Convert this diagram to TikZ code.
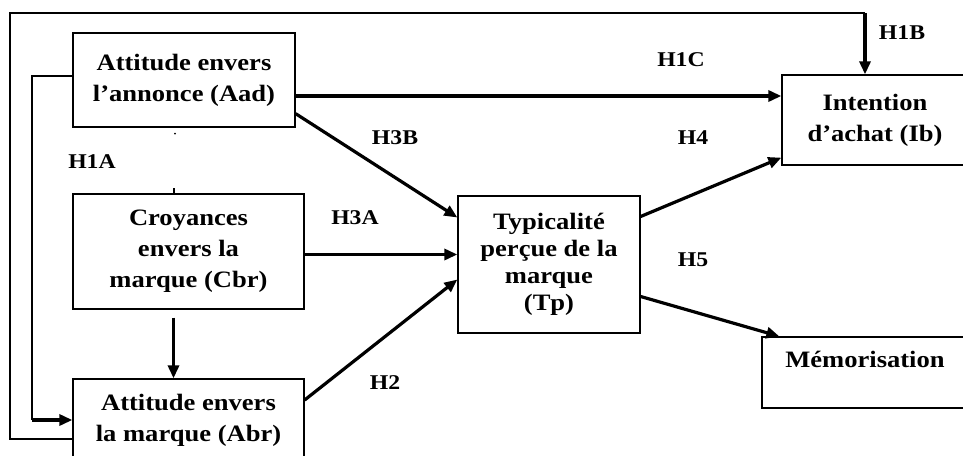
\documentclass[tikz,border=0pt]{standalone}
\usepackage{fontspec}
\setmainfont{Liberation Serif}[FakeStretch=1.13]
\usetikzlibrary{arrows.meta}

\begin{document}
\begin{tikzpicture}[x=1pt, y=-1pt,
    bloc/.style={draw, line width=1.3pt, rectangle, align=center,
        font=\fontsize{23.5}{31}\selectfont\bfseries, inner sep=2pt},
    lien/.style={line width=3.2pt, -{Triangle[length=13pt,width=11pt]}},
    boucle/.style={line width=1.5pt},
    hyp/.style={font=\fontsize{21}{24}\selectfont\bfseries}]
    \useasboundingbox (0,0) rectangle (963,455);
    % Blocs du modele
    \node[bloc, minimum width=222pt, minimum height=94pt] (Aad) at (184,80)
        {Attitude envers\\l'annonce (Aad)};
    \node[bloc, minimum width=231pt, minimum height=115pt] (Cbr) at (188.5,251.5)
        {Croyances\\envers la\\marque (Cbr)};
    \node[bloc, minimum width=231pt, minimum height=82pt] (Abr) at (188.5,420)
        {Attitude envers\\la marque (Abr)};
    \node[bloc, minimum width=182pt, minimum height=137pt,
        font=\fontsize{23.5}{27}\selectfont\bfseries] (Tp) at (549,264.5)
        {Typicalité\\perçue de la\\marque\\(Tp)};
    \node[bloc, minimum width=186pt, minimum height=90pt] (Ib) at (875,120)
        {Intention\\d'achat (Ib)};
    \node[bloc, minimum width=206pt, minimum height=71pt] (Mem) at (865,372.5)
        {Mémorisation\\[-4pt]~};
    % Coins des retours
    \coordinate (gauche) at (10,13);
    \coordinate (coin) at (865,13);
    \coordinate (retour) at (32,76);
    % Retour exterieur vers l'intention d'achat
    \draw[boucle] ([yshift=-19pt]Abr.west) -| (gauche) -- (coin);
    \draw[lien] (coin) -- (coin |- Ib.north);
    % Retour interieur vers l'attitude envers la marque
    \draw[boucle] ([yshift=4pt]Aad.west) -- (retour) -- (retour |- Abr.west);
    \draw[lien] (retour |- Abr.west) -- (Abr.west);
    % Liens entre les blocs
    \draw[lien] ([yshift=-16pt]Aad.east) -- ([yshift=-16pt]Aad.east -| Ib.west);
    \draw[lien] ([yshift=14pt]Aad.south east) -- ([yshift=47pt]Tp.west);
    \draw[lien] ([yshift=-3pt]Cbr.east) -- ([yshift=-3pt]Cbr.east -| Tp.west);
    \draw[lien, shorten <=8pt] ([xshift=-15pt]Cbr.south) -- ([xshift=-15pt]Abr.north);
    \draw[lien] ([yshift=20pt]Abr.east) -- ([yshift=-15pt]Tp.west);
    \draw[lien] ([yshift=48pt]Tp.east) -- ([yshift=8pt]Ib.south west);
    \draw[lien] ([yshift=-32pt]Tp.east) -- ([xshift=18pt]Mem.north west);
    % Trace de H1A
    \fill ([xshift=-9pt,yshift=-6pt]Aad.south) circle (1pt);
    \draw[line width=2pt] ([xshift=-15pt]Cbr.north) -- ++(0,-5);
    % Hypotheses
    \node[hyp] (h1c) at (681,60) {H1C};
    \node[hyp] (h1b) at (902,33) {H1B};
    \node[hyp] (h3b) at (395,138) {H3B};
    \node[hyp] (h1a) at (92,162) {H1A};
    \node[hyp] (h3a) at (355,218) {H3A};
    \node[hyp] (h4) at (693,138) {H4};
    \node[hyp] (h5) at (693,260) {H5};
    \node[hyp] (h2) at (385,383) {H2};
\end{tikzpicture}
\end{document}
